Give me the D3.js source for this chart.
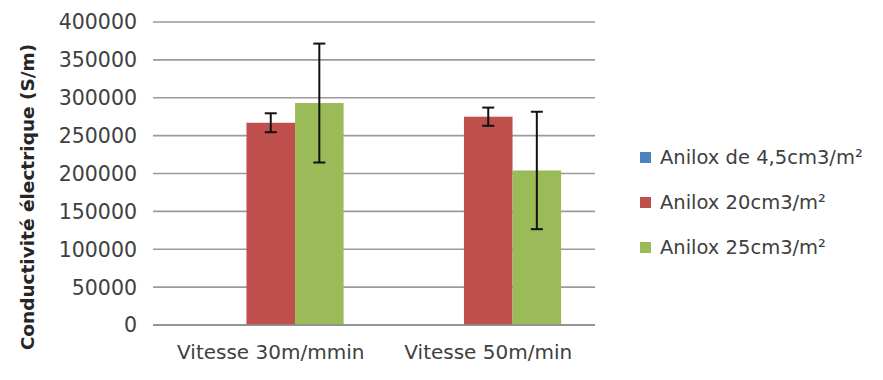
<!DOCTYPE html>
<html>
<head>
<meta charset="utf-8">
<script src="https://cdn.jsdelivr.net/npm/d3@7"></script>
<style>
  body { margin: 0; background: #fff; }
  svg { display: block; font-family: "DejaVu Sans", sans-serif; }
</style>
</head>
<body>
<div id="chart"></div>
<script>
// valeurs
const categories = ["Vitesse 30m/mmin", "Vitesse 50m/min"];
const seriesNames = ["Anilox de 4,5cm3/m\u00b2", "Anilox 20cm3/m\u00b2", "Anilox 25cm3/m\u00b2"];
const seriesColors = ["#4F81BD", "#C0504D", "#9BBB59"];
const anilox45 = [null, null];
const anilox20 = [267000, 275000];
const anilox25 = [293000, 204000];
const err45 = [null, null];
const err20 = [12500, 12000];
const err25 = [78500, 77500];
const yTicks = [0, 50000, 100000, 150000, 200000, 250000, 300000, 350000, 400000];

const values = [anilox45, anilox20, anilox25];
const errors = [err45, err20, err25];

const width = 883, height = 380;
const gridLeft = 153, gridRight = 595;

const svg = d3.select("#chart")
    .append("svg")
    .attr("width", width)
    .attr("height", height);

const y = d3.scaleLinear()
    .domain([0, 400000])
    .range([325, 22]);

const x0 = d3.scaleBand()
    .domain(categories)
    .range([162, 597]);

const x1 = d3.scaleBand()
    .domain(seriesNames)
    .range([x0.bandwidth() * 0.165, x0.bandwidth() * 0.835]);

// grille
svg.append("g")
    .selectAll("line")
    .data(yTicks)
    .join("line")
    .attr("x1", gridLeft)
    .attr("x2", gridRight)
    .attr("y1", d => y(d))
    .attr("y2", d => y(d))
    .attr("stroke", "#9a9a9a")
    .attr("stroke-width", 1.6);

// étiquettes axe y
svg.append("g")
    .selectAll("text")
    .data(yTicks)
    .join("text")
    .attr("x", 137)
    .attr("y", d => y(d))
    .attr("dy", "0.36em")
    .attr("text-anchor", "end")
    .attr("fill", "#404040")
    .style("font-size", "20.5px")
    .text(d => d);

// données à plat
const bars = [];
categories.forEach((c, i) => {
    seriesNames.forEach((s, j) => {
        if (values[j][i] != null) {
            bars.push({ cat: c, series: s, color: seriesColors[j], value: values[j][i], err: errors[j][i] });
        }
    });
});

// barres
svg.append("g")
    .selectAll("rect")
    .data(bars)
    .join("rect")
    .attr("x", d => x0(d.cat) + x1(d.series))
    .attr("y", d => y(d.value))
    .attr("width", x1.bandwidth())
    .attr("height", d => y(0) - y(d.value))
    .attr("fill", d => d.color);

// axe horizontal
svg.append("line")
    .attr("x1", gridLeft)
    .attr("x2", gridRight)
    .attr("y1", y(0))
    .attr("y2", y(0))
    .attr("stroke", "#8a8a8a")
    .attr("stroke-width", 1.6);

// barres d'erreur
const eb = svg.append("g")
    .selectAll("g")
    .data(bars)
    .join("g")
    .attr("stroke", "#111")
    .attr("stroke-width", 2);

const cx = d => x0(d.cat) + x1(d.series) + x1.bandwidth() / 2;

eb.append("line")
    .attr("x1", cx).attr("x2", cx)
    .attr("y1", d => y(d.value + d.err))
    .attr("y2", d => y(d.value - d.err));
eb.append("line")
    .attr("x1", d => cx(d) - 6).attr("x2", d => cx(d) + 6)
    .attr("y1", d => y(d.value + d.err))
    .attr("y2", d => y(d.value + d.err));
eb.append("line")
    .attr("x1", d => cx(d) - 6).attr("x2", d => cx(d) + 6)
    .attr("y1", d => y(d.value - d.err))
    .attr("y2", d => y(d.value - d.err));

// étiquettes catégories
svg.append("g")
    .selectAll("text")
    .data(categories)
    .join("text")
    .attr("x", d => x0(d) + x0.bandwidth() / 2)
    .attr("y", 359)
    .attr("text-anchor", "middle")
    .attr("fill", "#404040")
    .style("font-size", "20px")
    .text(d => d);

// titre axe y
svg.append("text")
    .attr("transform", "translate(34,197) rotate(-90)")
    .attr("text-anchor", "middle")
    .attr("fill", "#262626")
    .style("font-size", "18.5px")
    .style("font-weight", "bold")
    .text("Conductivit\u00e9 \u00e9lectrique (S/m)");

// légende
const legend = svg.append("g")
    .selectAll("g")
    .data(seriesNames)
    .join("g")
    .attr("transform", (d, i) => `translate(640,${157 + i * 45})`);

legend.append("rect")
    .attr("x", 0)
    .attr("y", -5)
    .attr("width", 11)
    .attr("height", 11)
    .attr("fill", (d, i) => seriesColors[i]);

legend.append("text")
    .attr("x", 20)
    .attr("y", 0)
    .attr("dy", "0.36em")
    .attr("fill", "#404040")
    .style("font-size", "19.5px")
    .text(d => d);
</script>
</body>
</html>
